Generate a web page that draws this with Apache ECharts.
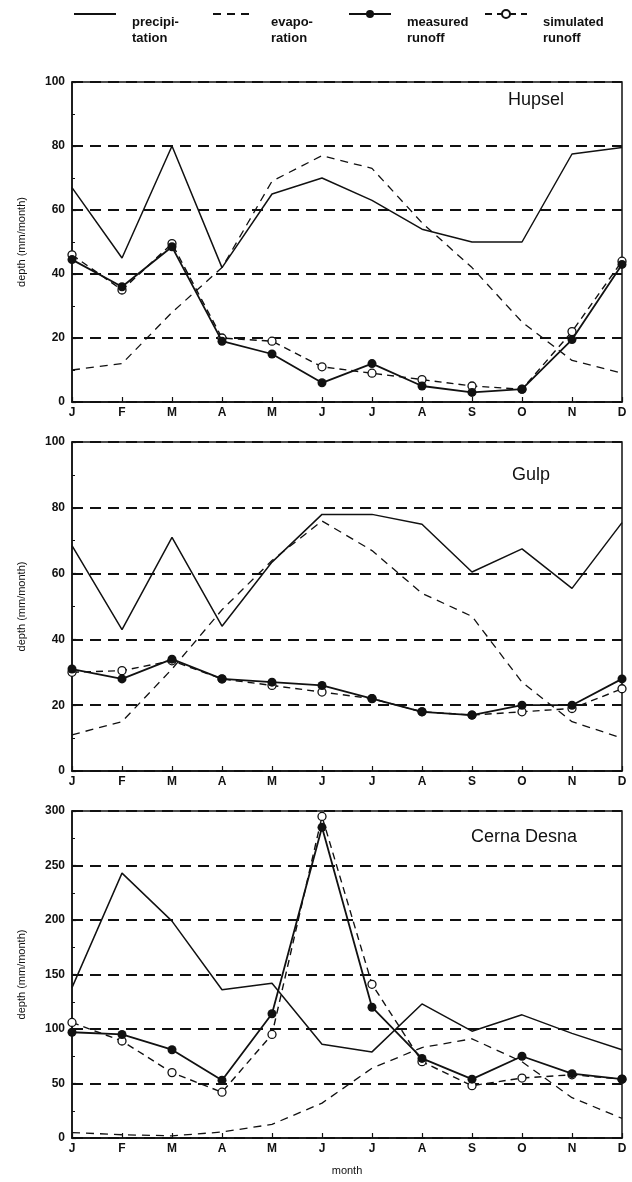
<!DOCTYPE html>
<html>
<head>
<meta charset="utf-8">
<script src="https://cdn.jsdelivr.net/npm/echarts@6/dist/echarts.min.js"></script>
<style>
  html, body { margin: 0; padding: 0; background: #fff; }
  #chart { width: 632px; height: 1182px; }
</style>
</head>
<body>
<div id="chart"></div>
<script>
// Monthly water balance for three catchments (mm/month)
const months = ['J', 'F', 'M', 'A', 'M', 'J', 'J', 'A', 'S', 'O', 'N', 'D'];

const hupselPrecip    = [67, 45, 80, 42, 65, 70, 63, 54, 50, 50, 77.5, 79.5];
const hupselEvap      = [10, 12, 28, 42, 69, 77, 73, 56, 42, 25, 13, 9];
const hupselMeasured  = [44.5, 36, 48.5, 19, 15, 6, 12, 5, 3, 4, 19.5, 43];
const hupselSimulated = [46, 35, 49.5, 20, 19, 11, 9, 7, 5, 4, 22, 44];

const gulpPrecip    = [68.5, 43, 71, 44, 63.5, 78, 78, 75, 60.5, 67.5, 55.5, 75.5];
const gulpEvap      = [11, 15, 31, 49, 64, 76, 67, 54, 47, 27, 15, 10];
const gulpMeasured  = [31, 28, 34, 28, 27, 26, 22, 18, 17, 20, 20, 28];
const gulpSimulated = [30, 30.5, 33.5, 28, 26, 24, 22, 18, 17, 18, 19, 25];

const cernaPrecip    = [138, 243, 199, 136, 142, 86, 79, 123, 98, 113, 96, 81];
const cernaEvap      = [5, 3, 2, 5.5, 12.5, 32, 64, 83, 91, 70, 37, 18];
const cernaMeasured  = [97, 95, 81, 53, 114, 285, 120, 73, 54, 75, 59, 54];
const cernaSimulated = [106, 89, 60, 42, 95, 295, 141, 70, 48, 55, 58, 54];

const panels = [
  { name: 'Hupsel',      max: 100, interval: 20, precip: hupselPrecip, evap: hupselEvap, measured: hupselMeasured, simulated: hupselSimulated },
  { name: 'Gulp',        max: 100, interval: 20, precip: gulpPrecip,   evap: gulpEvap,   measured: gulpMeasured,   simulated: gulpSimulated },
  { name: 'Cerna Desna', max: 300, interval: 50, precip: cernaPrecip,  evap: cernaEvap,  measured: cernaMeasured,  simulated: cernaSimulated }
];

const legendNames = {
  precipitation: 'precipi-\ntation',
  evaporation: 'evapo-\nration',
  'measured runoff': 'measured\nrunoff',
  'simulated runoff': 'simulated\nrunoff'
};

const FONT = '"Liberation Sans", Arial, Helvetica, sans-serif';
const INK = '#111';

const gridBoxes = [
  { left: 72, top: 82,  width: 550, height: 320 },
  { left: 72, top: 442, width: 550, height: 329 },
  { left: 72, top: 811, width: 550, height: 327 }
];
const titleBoxes = [
  { left: 508, top: 91 },
  { left: 512, top: 466 },
  { left: 471, top: 828 }
];

const grid = [], xAxis = [], yAxis = [], series = [], title = [];

panels.forEach((p, i) => {
  grid.push(Object.assign({
    show: true, borderColor: INK, borderWidth: 1.5, backgroundColor: 'transparent'
  }, gridBoxes[i]));

  title.push({
    text: p.name,
    left: titleBoxes[i].left, top: titleBoxes[i].top,
    padding: 0,
    textStyle: { fontFamily: FONT, fontSize: 18, fontWeight: 'normal', color: INK }
  });

  xAxis.push({
    type: 'category', gridIndex: i, data: months, boundaryGap: false,
    axisLine: { show: true, lineStyle: { color: INK, width: 1.5 } },
    axisTick: { show: true, inside: true, length: 5, lineStyle: { color: INK, width: 1.2 } },
    axisLabel: { color: INK, fontFamily: FONT, fontSize: 12, fontWeight: 'bold', margin: 5 },
    splitLine: { show: false },
    name: i === 2 ? 'month' : '',
    nameLocation: 'middle', nameGap: 27,
    nameTextStyle: { color: INK, fontFamily: FONT, fontSize: 11 }
  });

  yAxis.push({
    type: 'value', gridIndex: i, min: 0, max: p.max, interval: p.interval,
    axisLine: { show: true, lineStyle: { color: INK, width: 1.5 } },
    axisTick: { show: true, inside: true, length: 4, lineStyle: { color: INK, width: 1.2 } },
    minorTick: { show: true, splitNumber: 2, length: 3, lineStyle: { color: INK, width: 1 } },
    axisLabel: { color: INK, fontFamily: FONT, fontSize: 12, fontWeight: 'bold', margin: 7 },
    splitLine: { show: true, lineStyle: { color: INK, width: 1.8, type: [11, 7] } },
    name: 'depth (mm/month)', nameLocation: 'middle', nameGap: 45,
    nameTextStyle: { color: INK, fontFamily: FONT, fontSize: 11 }
  });

  series.push({
    name: 'precipitation', type: 'line', xAxisIndex: i, yAxisIndex: i,
    data: p.precip, symbol: 'none', z: 3,
    lineStyle: { color: INK, width: 1.5 }, itemStyle: { color: INK }
  });
  series.push({
    name: 'evaporation', type: 'line', xAxisIndex: i, yAxisIndex: i,
    data: p.evap, symbol: 'none', z: 3,
    lineStyle: { color: INK, width: 1.3, type: [8, 6] }, itemStyle: { color: INK }
  });
  series.push({
    name: 'simulated runoff', type: 'line', xAxisIndex: i, yAxisIndex: i,
    data: p.simulated, symbol: 'circle', symbolSize: 8, z: 4,
    lineStyle: { color: INK, width: 1.4, type: [7, 5] },
    itemStyle: { color: '#fff', borderColor: INK, borderWidth: 1.3 }
  });
  series.push({
    name: 'measured runoff', type: 'line', xAxisIndex: i, yAxisIndex: i,
    data: p.measured, symbol: 'circle', symbolSize: 9, z: 5,
    lineStyle: { color: INK, width: 1.8 }, itemStyle: { color: INK }
  });
});

// One legend per entry so each can be placed on its own.
// Two blank lines ahead of the label push the two text lines below the key line.
const LH = 16;
const legendSpots = [
  { name: 'precipitation',    left: 73,  marker: false },
  { name: 'evaporation',      left: 212, marker: false },
  { name: 'measured runoff',  left: 348, marker: true },
  { name: 'simulated runoff', left: 484, marker: true }
];
const legend = legendSpots.map(s => {
  const l = {
    data: [s.name], left: s.left, top: 14 - 2 * LH, padding: 0,
    itemWidth: 42, itemHeight: 10, itemGap: 0,
    selectedMode: false,
    formatter: n => '\n\n' + legendNames[n],
    textStyle: { fontFamily: FONT, fontSize: 13, fontWeight: 'bold', color: INK, lineHeight: LH, padding: [0, 0, 0, 11] }
  };
  if (!s.marker) l.itemStyle = { opacity: 0 };
  return l;
});

const chart = echarts.init(document.getElementById('chart'), null, { renderer: 'canvas' });
chart.setOption({
  backgroundColor: '#fff',
  animation: false,
  title, legend, grid, xAxis, yAxis, series
});
</script>
</body>
</html>
